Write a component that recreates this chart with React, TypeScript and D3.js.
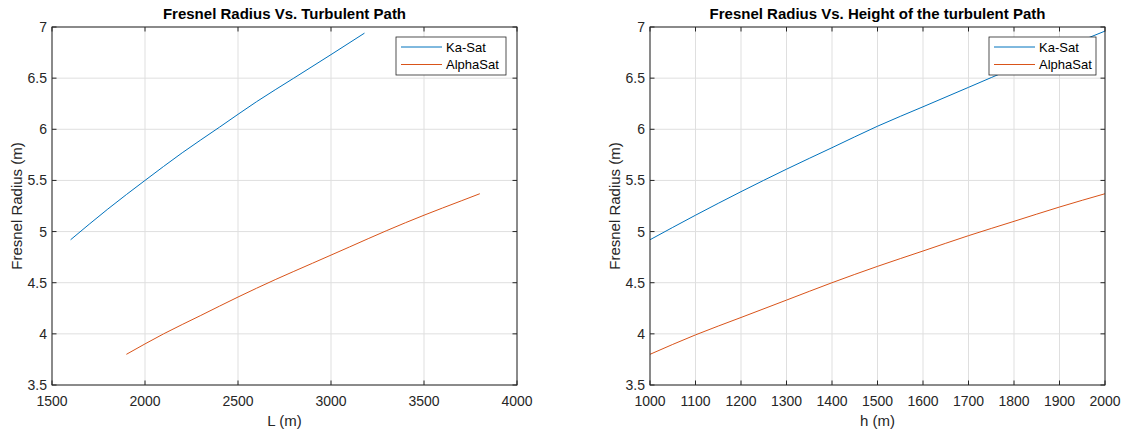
import React from "react";
import * as d3 from "d3";

// Left chart: Fresnel radius vs turbulent path length L (m)
const kaL = [1600, 1800, 2000, 2200, 2400, 2600, 2800, 3000, 3180];
const kaLR = [4.92, 5.22, 5.5, 5.77, 6.02, 6.27, 6.5, 6.73, 6.94];
const alphaL = [1900, 2100, 2300, 2500, 2700, 2900, 3100, 3300, 3500, 3700, 3800];
const alphaLR = [3.8, 4.0, 4.18, 4.36, 4.53, 4.69, 4.85, 5.01, 5.16, 5.3, 5.37];

// Right chart: Fresnel radius vs height h (m)
const hVals = [1000, 1100, 1200, 1300, 1400, 1500, 1600, 1700, 1800, 1900, 2000];
const kaH = [4.92, 5.16, 5.39, 5.61, 5.82, 6.03, 6.22, 6.41, 6.6, 6.78, 6.96];
const alphaH = [3.8, 3.99, 4.16, 4.33, 4.5, 4.66, 4.81, 4.96, 5.1, 5.24, 5.37];

const yTicks = [3.5, 4, 4.5, 5, 5.5, 6, 6.5, 7];
const xTicksL = [1500, 2000, 2500, 3000, 3500, 4000];
const xTicksH = [1000, 1100, 1200, 1300, 1400, 1500, 1600, 1700, 1800, 1900, 2000];
const seriesNames = ["Ka-Sat", "AlphaSat"];
const colors = ["#0072BD", "#D95319"];

const FONT = "'Liberation Sans', Arial, Helvetica, sans-serif";
const AX = "#262626";

type Series = { xs: number[]; ys: number[] };

function Panel(props: {
  left: number;
  right: number;
  top: number;
  bottom: number;
  xDomain: [number, number];
  xTicks: number[];
  title: string;
  xLabel: string;
  series: Series[];
  legendX: number;
  legendW: number;
}) {
  const { left, right, top, bottom, xDomain, xTicks, title, xLabel, series, legendX, legendW } = props;
  const x = d3.scaleLinear().domain(xDomain).range([left, right]);
  const y = d3.scaleLinear().domain([3.5, 7]).range([bottom, top]);
  const tl = 4.5;
  const cx = (left + right) / 2;
  const cy = (top + bottom) / 2;
  return (
    <g fontFamily={FONT}>
      <rect x={left} y={top} width={right - left} height={bottom - top} fill="#fff" />
      {xTicks.map((t) => (
        <line key={"gx" + t} x1={x(t)} x2={x(t)} y1={top} y2={bottom} stroke="#dfdfdf" strokeWidth={1} />
      ))}
      {yTicks.map((t) => (
        <line key={"gy" + t} x1={left} x2={right} y1={y(t)} y2={y(t)} stroke="#dfdfdf" strokeWidth={1} />
      ))}
      {series.map((s, i) => {
        const line = d3
          .line<number>()
          .x((_, k) => x(s.xs[k]))
          .y((v) => y(v))
          .curve(d3.curveMonotoneX);
        return <path key={"s" + i} d={line(s.ys) || ""} fill="none" stroke={colors[i]} strokeWidth={1} />;
      })}
      <rect x={left} y={top} width={right - left} height={bottom - top} fill="none" stroke={AX} strokeWidth={1} />
      {xTicks.map((t) => (
        <g key={"tx" + t}>
          <line x1={x(t)} x2={x(t)} y1={bottom} y2={bottom - tl} stroke={AX} />
          <line x1={x(t)} x2={x(t)} y1={top} y2={top + tl} stroke={AX} />
          <text x={x(t)} y={bottom + 21} textAnchor="middle" fontSize={14} fill={AX}>
            {t}
          </text>
        </g>
      ))}
      {yTicks.map((t) => (
        <g key={"ty" + t}>
          <line x1={left} x2={left + tl} y1={y(t)} y2={y(t)} stroke={AX} />
          <line x1={right} x2={right - tl} y1={y(t)} y2={y(t)} stroke={AX} />
          <text x={left - 5} y={y(t) + 5} textAnchor="end" fontSize={14} fill={AX}>
            {t}
          </text>
        </g>
      ))}
      <text x={cx} y={top - 8} textAnchor="middle" fontSize={15} fontWeight="bold" fill="#000">
        {title}
      </text>
      <text x={cx} y={bottom + 41} textAnchor="middle" fontSize={15} fill={AX}>
        {xLabel}
      </text>
      <text
        transform={`translate(${left - 30},${cy}) rotate(-90)`}
        textAnchor="middle"
        fontSize={15}
        fill={AX}
      >
        Fresnel Radius (m)
      </text>
      <g>
        <rect x={legendX} y={37} width={legendW} height={38} fill="#fff" stroke={AX} strokeWidth={0.8} />
        {seriesNames.map((n, i) => (
          <g key={n}>
            <line
              x1={legendX + 5}
              x2={legendX + 46}
              y1={47 + i * 17.5}
              y2={47 + i * 17.5}
              stroke={colors[i]}
              strokeWidth={1}
            />
            <text x={legendX + 50} y={51.5 + i * 17.5} fontSize={13} fill="#000">
              {n}
            </text>
          </g>
        ))}
      </g>
    </g>
  );
}

export default function App() {
  return (
    <svg
      width={1131}
      height={432}
      style={{ position: "absolute", left: 0, top: 0, background: "#fff" }}
    >
      <rect width={1131} height={432} fill="#fff" />
      <Panel
        left={52}
        right={517}
        top={27}
        bottom={385}
        xDomain={[1500, 4000]}
        xTicks={xTicksL}
        title="Fresnel Radius Vs. Turbulent Path"
        xLabel="L (m)"
        series={[
          { xs: kaL, ys: kaLR },
          { xs: alphaL, ys: alphaLR },
        ]}
        legendX={396}
        legendW={110}
      />
      <Panel
        left={650}
        right={1105}
        top={27}
        bottom={385}
        xDomain={[1000, 2000]}
        xTicks={xTicksH}
        title="Fresnel Radius Vs. Height of the turbulent Path"
        xLabel="h (m)"
        series={[
          { xs: hVals, ys: kaH },
          { xs: hVals, ys: alphaH },
        ]}
        legendX={989}
        legendW={107}
      />
    </svg>
  );
}
